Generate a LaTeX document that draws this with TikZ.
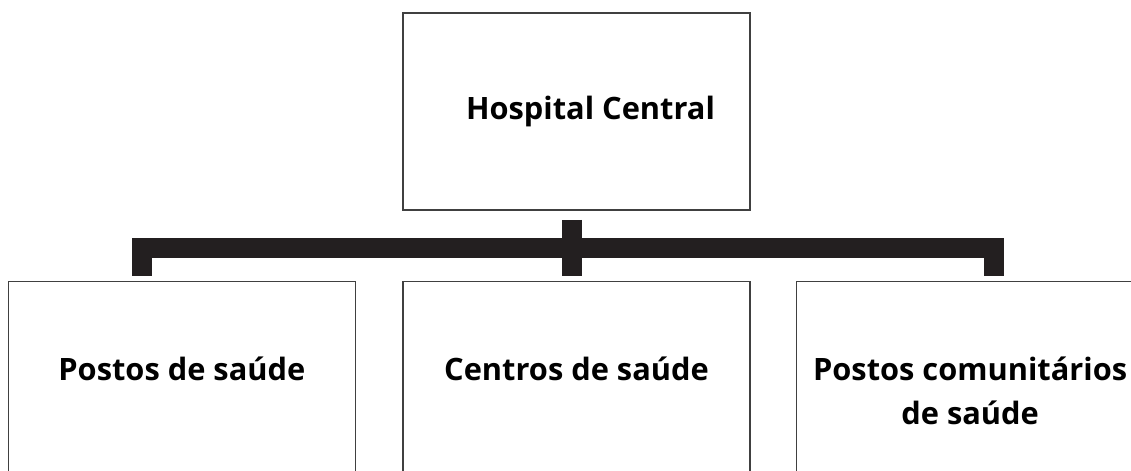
\documentclass[tikz,border=0pt]{standalone}
\usepackage{fontspec}
\setmainfont{Open Sans}
\usetikzlibrary{positioning,calc}

\definecolor{boxgray}{HTML}{404040}
\definecolor{barblack}{HTML}{231F20}

\tikzset{
	box/.style={rectangle,draw=boxgray,line width=1.1pt,minimum width=8.675cm,minimum height=4.925cm,inner sep=0pt},
	lbl/.style={font=\bfseries\fontsize{21.9}{31.3}\selectfont,inner sep=0pt,align=center},
	bar/.style={draw=barblack,line width=14.2pt}
}

\begin{document}
\begin{tikzpicture}[x=0.025cm,y=-0.025cm]
	\useasboundingbox (0,0) rectangle (1131,470);
	\clip (0,0) rectangle (1131,470);

	\node[box] (hc) at (576.5,111.5) {};
	\node[box,below=1.75cm of hc] (cs) {};
	\node[box,left=1.15cm of cs] (ps) {};
	\node[box,right=1.125cm of cs] (pcs) {};

	% anchor=base sits on the last line of a two-line label
	\node[lbl,anchor=base] (hc text) at ($(hc.north)+(14,107)$) {Hospital Central};
	\node[lbl,anchor=base] (ps text) at ($(ps.north)+(0,100)$) {Postos de saúde};
	\node[lbl,anchor=base] (cs text) at ($(cs.north)+(0,100)$) {Centros de saúde};
	\node[lbl,anchor=base] (pcs text) at ($(pcs.north)+(0,144)$) {Postos comunitários\\de saúde};

	\coordinate (hc stub) at ($(hc.south)+(-4.5,9)$);
	\coordinate (cs stub) at ($(cs.north)+(-4.5,-5)$);
	\coordinate (ps stub) at ($(ps.north)+(-40,-5)$);
	\coordinate (pcs stub) at ($(pcs.north)+(24,-5)$);
	\coordinate (joint) at ($(hc.south)+(-4.5,37.5)$);

	\draw[bar] (ps stub) |- (joint) -| (pcs stub);
	\draw[bar] (hc stub) -- (cs stub);
\end{tikzpicture}
\end{document}
